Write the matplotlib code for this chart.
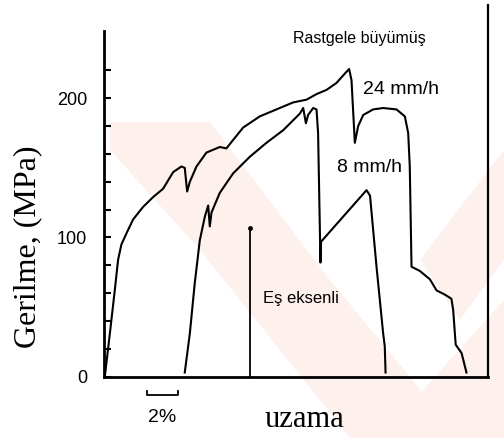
import matplotlib
matplotlib.use("Agg")
import matplotlib.pyplot as plt
from matplotlib.patches import Polygon
import numpy as np

# curve data (strain in %, stress in MPa)
strain_24 = [0, 0.32, 0.63, 0.84, 1.05, 1.37, 1.79, 2.42, 3.05, 3.68, 4.32, 4.84, 5.05,
             5.2, 5.37, 5.79, 6.42, 7.26, 7.68, 8.1, 8.74, 9.79, 10.84, 11.89, 12.74,
             13.37, 14.0, 14.63, 15.26, 15.43, 15.58, 15.79, 16.0, 16.32, 16.95, 17.58,
             18.42, 18.95, 19.16, 19.26, 19.37, 19.89, 20.53, 20.95, 21.47, 21.89, 22.0,
             22.16, 22.53, 22.84]
stress_24 = [0, 31, 62, 84, 95, 103, 113, 122, 129, 135, 147, 151, 150,
             133, 140, 151, 161, 165, 164, 170, 179, 187, 192, 197, 199,
             203, 206, 211, 219, 221, 213, 168, 180, 188, 192, 193,
             192, 187, 175, 151, 79, 76, 70, 62, 59, 56, 48,
             23, 17, 3]

strain_8 = [5.05, 5.37, 5.68, 6.0, 6.32, 6.53, 6.63, 6.74, 7.26, 8.1, 9.16, 10.21,
            11.26, 12.32, 12.53, 12.7, 12.84, 13.16, 13.37, 13.47, 13.62, 13.66,
            16.53, 16.75, 17.16, 17.37, 17.58, 17.68, 17.73]
stress_8 = [3, 31, 67, 98, 115, 123, 108, 118, 132, 146, 158, 168,
            177, 189, 193, 182, 188, 193, 192, 175, 82, 97,
            134, 130, 79, 55, 31, 22, 3]

strain_es = [9.16, 9.16]
stress_es = [0, 107]

W, H = 504, 438
fig = plt.figure(figsize=(W / 100, H / 100), dpi=100)

# very faint watermark behind everything (pixel coords)
wm = "#fdf0ed"
for pts in [
    [(110, 122), (210, 122), (330, 280), (460, 438), (350, 438), (200, 250), (110, 150)],
    [(380, 438), (504, 300), (504, 438)],
    [(420, 260), (504, 150), (504, 260), (460, 320)],
]:
    fig.patches.append(Polygon([(x / W, 1 - y / H) for x, y in pts], closed=True,
                               transform=fig.transFigure, fc=wm, ec="none", zorder=-1))

ax = fig.add_axes([104 / W, 1 - 376.7 / H, (488 - 104) / W, (376.7 - 5) / H])
ax.patch.set_alpha(0)

ax.plot(strain_24, stress_24, color="black", lw=1.5)
ax.plot(strain_8, stress_8, color="black", lw=1.5)
ax.plot(strain_es, stress_es, color="black", lw=1.3)
ax.plot([strain_es[1]], [stress_es[1]], "o", color="black", ms=2.5)

ax.set_xlim(-0.05, 24.2)
ax.set_ylim(0, 267)
ax.spines["top"].set_visible(False)
ax.spines["left"].set_bounds(0, 248)
ax.spines["left"].set_linewidth(2)
ax.spines["bottom"].set_linewidth(2)
ax.spines["right"].set_linewidth(1.6)

ax.set_xticks([])
ax.set_yticks([0, 100, 200])
ax.set_yticks(np.arange(20, 240, 20), minor=True)
ax.tick_params(axis="y", which="both", direction="in", length=5, width=1.5,
               pad=12, labelsize=13)
for t in ax.get_yticklabels():
    t.set_fontfamily("Liberation Sans")

# scale bar for 2 %
ax.plot([2.65, 2.65, 4.65, 4.65], [-10, -13, -13, -10], color="black", lw=1.3,
        clip_on=False)
ax.text(3.65, -29, "2%", ha="center", va="center", fontsize=14,
        family="Liberation Sans")

ax.text(16.1, 243, "Rastgele büyümüş", ha="center", va="center", fontsize=11.5,
        family="Liberation Sans")
ax.text(18.7, 206, "24 mm/h", ha="center", va="center", fontsize=14,
        family="Liberation Sans")
ax.text(16.7, 150, "8 mm/h", ha="center", va="center", fontsize=14,
        family="Liberation Sans")
ax.text(12.4, 56, "Eş eksenli", ha="center", va="center", fontsize=12,
        family="Liberation Sans")
ax.text(12.6, -31, "uzama", ha="center", va="center", fontsize=22,
        family="Liberation Serif")

fig.text(28 / W, 1 - 247 / H, "Gerilme, (MPa)", rotation=90, ha="center",
         va="center", fontsize=23, family="Liberation Serif")

fig.savefig("out.png", dpi=100)
